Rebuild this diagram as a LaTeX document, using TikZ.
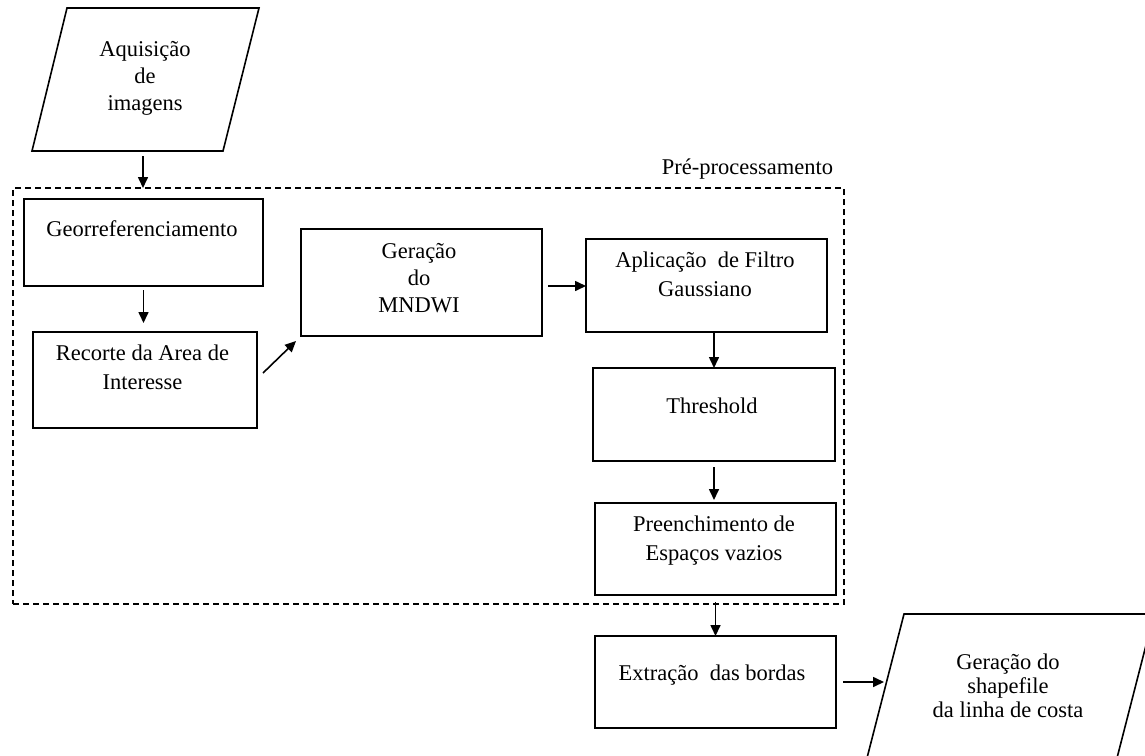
\documentclass[tikz,border=0pt]{standalone}
\usepackage{fontspec}
\setmainfont{Liberation Serif}
\usetikzlibrary{arrows.meta,calc}
\begin{document}
\begin{tikzpicture}[x=1pt,y=-1pt,
  box/.style={draw, line width=1.6pt, inner sep=0pt, outer sep=0pt},
  txt/.style={align=center, inner sep=0pt, font=\fontsize{22.5}{27}\selectfont},
  wide/.style={font=\fontsize{22.5}{29}\selectfont},
  narrow/.style={font=\fontsize{22.5}{24}\selectfont},
  arr/.style={line width=1.6pt, -{Triangle[length=11pt,width=10pt]}},
  region/.style={draw, line width=1.3pt, dash pattern=on 6pt off 4pt, inner sep=0pt, outer sep=0pt}
  ]
\path[use as bounding box] (0,0) rectangle (1145,755);
\clip (0,0) rectangle (1145,755);

% pre-processing region
\node[region, minimum width=831pt, minimum height=416pt] (prep) at (428.5,396) {};
\node[txt] (preplbl) at (747.5,169) {Pré-processamento};

% input parallelogram
\draw[line width=1.6pt] (67,8) -- (259,8) -- (223,151) -- (32,151) -- cycle;
\coordinate (acqb) at (143,151);
\node[txt] (acq) at (145,78) {Aquisição\\de\\imagens};

% boxes
\node[box, minimum width=239pt, minimum height=87pt] (geo) at (143.5,242.5) {};
\node[txt] (geot) at (142,229) {Georreferenciamento};

\node[box, minimum width=224pt, minimum height=96pt] (rec) at (145,380) {};
\node[txt, wide] (rect) at (142.5,367.5) {Recorte da Area de\\Interesse};

\node[box, minimum width=241pt, minimum height=107pt] (mnd) at (421.5,282.5) {};
\node[txt] (mndt) at (419,278) {Geração\\do\\MNDWI};

\node[box, minimum width=241pt, minimum height=93pt] (apl) at (706.5,285.5) {};
\node[txt, wide] (aplt) at (705,274.5) {Aplicação\ \ de Filtro\\Gaussiano};

\node[box, minimum width=242pt, minimum height=93pt] (thr) at (714,414.5) {};
\node[txt] (thrt) at (712,406) {Threshold};

\node[box, minimum width=241pt, minimum height=92pt] (pre) at (715.5,549) {};
\node[txt, wide] (pret) at (714,540.5) {Preenchimento de\\Espaços vazios};

\node[box, minimum width=241pt, minimum height=92pt] (ext) at (715.5,682) {};
\node[txt] (extt) at (712,675) {Extração\ \ das bordas};

% output parallelogram
\draw[line width=1.6pt] (904,614) -- (1154,614) -- (1117,758) -- (867,758) -- cycle;
\coordinate (outl) at (887,682);
\node[txt, narrow] (outt) at (1008,686) {Geração do\\shapefile\\da linha de costa};

% connectors
\draw[arr, shorten <=5pt] (acqb) -- (acqb |- prep.north);
\draw[arr, shorten <=4pt, shorten >=9pt] (geo.south) -- (geo.south |- rec.north);
\draw[arr] ([xshift=6pt,yshift=7pt]rec.east) -- ([xshift=-5pt,yshift=-5pt]mnd.south west);
\draw[arr] ([xshift=6pt,yshift=-3.5pt]mnd.east) -- ([yshift=-3.5pt]mnd.east -| apl.west);
\draw[arr] (apl.south -| thr.north) -- (thr.north);
\draw[arr, shorten <=6pt, shorten >=3pt] (thr.south) -- (thr.south |- pre.north);
\draw[arr, shorten <=7pt] (pre.south) -- (pre.south |- ext.north);
\draw[arr] ([xshift=7pt]ext.east) -- ([xshift=-3pt]outl);
\end{tikzpicture}
\end{document}
